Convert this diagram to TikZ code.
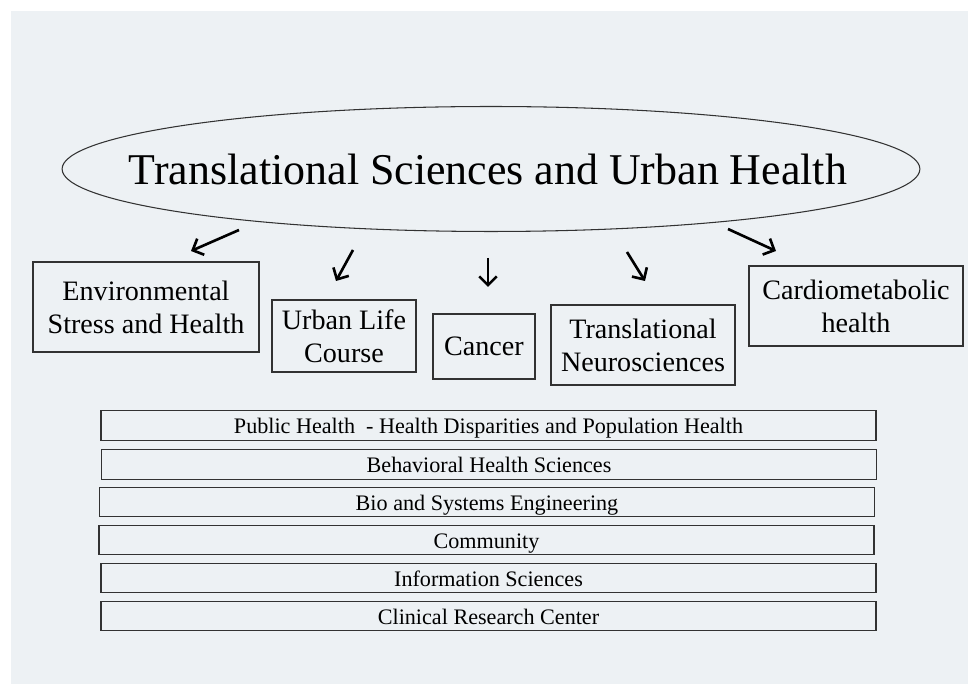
\documentclass[tikz,border=0pt]{standalone}
\usepackage{fontspec}
\setmainfont{Liberation Serif}
\usetikzlibrary{shapes.geometric,arrows.meta}
\definecolor{bgc}{RGB}{237,241,244}
\definecolor{linec}{RGB}{50,50,50}
\begin{document}
\begin{tikzpicture}[x=0.02cm,y=-0.02cm,
  topicbox/.style={draw=linec,line width=0.7pt,align=center,inner sep=0pt,
    font=\fontsize{16}{18.7}\selectfont},
  barbox/.style={draw=linec,line width=0.75pt,inner sep=0pt,minimum width=15.5cm,
    minimum height=0.59cm,text height=9.6pt,text depth=0.4pt,font=\fontsize{12.6}{14}\selectfont},
  arr/.style={line width=1.5pt,-{Straight Barb[length=5pt,width=10pt]}}]
\useasboundingbox (0,0) rectangle (968,685);
\fill[bgc] (11,11) rectangle (968,684);
\node[inner sep=0pt,font=\fontsize{25}{30}\selectfont] (main) at (488,169) {Translational Sciences and Urban Health};
\draw[linec,line width=0.6pt] (491,169) ellipse [x radius=8.58cm, y radius=1.25cm];
\node[topicbox,minimum width=4.52cm,minimum height=1.8cm] (env) at (146,307) {Environmental\\Stress and Health};
\node[topicbox,minimum width=2.88cm,minimum height=1.44cm] (urban) at (344,336) {Urban Life\\Course};
\node[topicbox,minimum width=2.04cm,minimum height=1.3cm] (cancer) at (484,346.5) {Cancer};
\node[topicbox,minimum width=3.68cm,minimum height=1.6cm] (neuro) at (643,345) {Translational\\Neurosciences};
\node[topicbox,minimum width=4.28cm,minimum height=1.6cm] (cardio) at (856,306) {Cardiometabolic\\health};
\node[barbox] (ph) at (488.5,425.5) {Public Health \ - Health Disparities and Population Health};
\node[barbox] (beh) at (489,464.5) {Behavioral Health Sciences};
\node[barbox] (bio) at (487,502) {Bio and Systems Engineering};
\node[barbox] (com) at (486.5,540) {Community};
\node[barbox] (inf) at (488.5,578) {Information Sciences};
\node[barbox] (cli) at (488.5,616) {Clinical Research Center};
\coordinate (a1s) at (239,230); \coordinate (a1e) at (191,251);
\coordinate (a2s) at (353,250); \coordinate (a2e) at (336,281);
\coordinate (a3s) at (488,258); \coordinate (a3e) at (488,287);
\coordinate (a4s) at (627,252); \coordinate (a4e) at (645,281);
\coordinate (a5s) at (728,229); \coordinate (a5e) at (776,251);
\draw[arr] (a1s) -- (a1e);
\draw[arr] (a2s) -- (a2e);
\draw[arr] (a3s) -- (a3e);
\draw[arr] (a4s) -- (a4e);
\draw[arr] (a5s) -- (a5e);
\end{tikzpicture}
\end{document}
